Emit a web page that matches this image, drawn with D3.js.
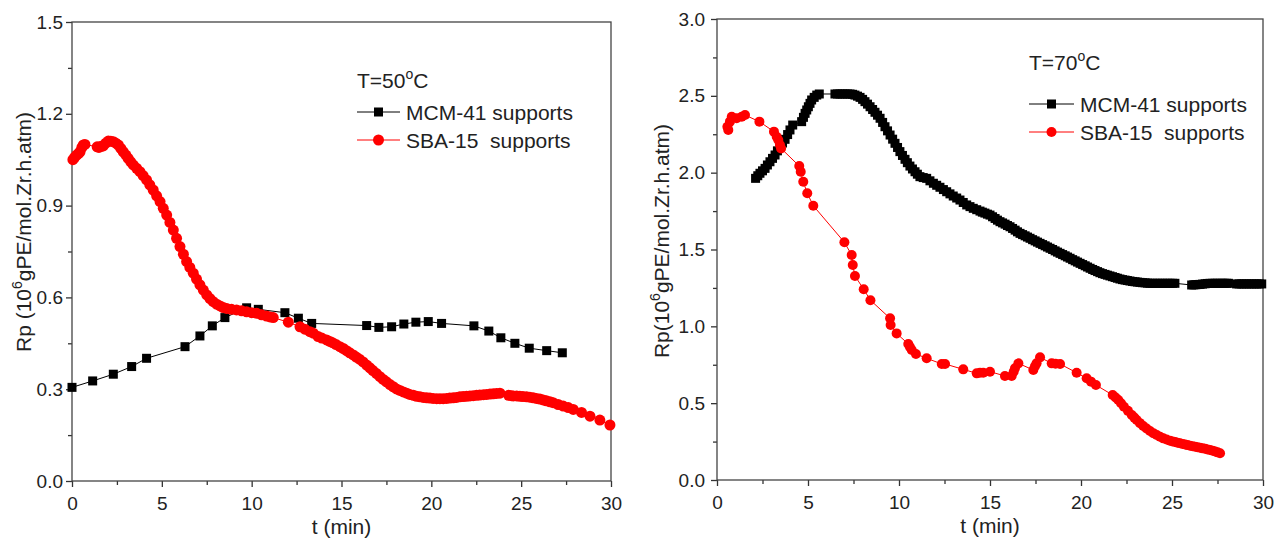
<!DOCTYPE html>
<html>
<head>
<meta charset="utf-8">
<script src="https://cdn.jsdelivr.net/npm/d3@7"></script>
<style>
  body { margin: 0; background: #fff; }
  svg { display: block; }
</style>
</head>
<body>
<script>
// tick values
const xTicks = [0, 5, 10, 15, 20, 25, 30];
const yTicks50 = [0, 0.3, 0.6, 0.9, 1.2, 1.5];
const yTicks70 = [0, 0.5, 1.0, 1.5, 2.0, 2.5, 3.0];

// T = 50 C, [t (min), Rp]
const mcm50 = [[0,0.306],[1.15,0.327],[2.3,0.349],[3.32,0.374],[4.15,0.401],[6.29,0.439],[7.12,0.474],
  [7.81,0.507],[8.51,0.534],[9.72,0.566],[10.37,0.561],[11.85,0.55],[12.6,0.532],[13.34,0.515],
  [16.4,0.508],[17.08,0.502],[17.79,0.504],[18.47,0.513],[19.14,0.519],[19.83,0.521],[20.57,0.515],
  [22.37,0.507],[23.2,0.49],[23.87,0.468],[24.65,0.45],[25.45,0.434],[26.42,0.426],[27.29,0.419]];

const sba50 = [[0.05,1.05],[0.15,1.058],[0.26,1.065],[0.36,1.07],[0.45,1.076],[0.55,1.09],[0.63,1.098],
  [0.72,1.1],[1.4,1.092],[1.5,1.09],[1.62,1.094],[1.74,1.095],[1.88,1.104],[2.02,1.111],[2.16,1.11],
  [2.3,1.109],[2.44,1.104],[2.58,1.098],[2.72,1.087],[2.85,1.076],[3.0,1.065],[3.13,1.054],[3.27,1.043],
  [3.41,1.033],[3.6,1.022],[3.78,1.011],[3.96,0.998],[4.15,0.984],[4.33,0.968],[4.52,0.951],[4.71,0.932],
  [4.9,0.913],[5.08,0.891],[5.27,0.869],[5.45,0.845],[5.64,0.82],[5.82,0.793],[6.01,0.766],[6.2,0.741],
  [6.38,0.717],[6.56,0.698],[6.75,0.679],[6.93,0.66],[7.12,0.641],[7.31,0.624],[7.5,0.608],[7.68,0.596],
  [7.86,0.586],[8.05,0.578],[8.24,0.572],[8.42,0.567],[8.61,0.564],[8.88,0.561],[9.16,0.559],[9.44,0.556],
  [9.72,0.553],[10.0,0.55],[10.28,0.548],[10.55,0.543],[10.83,0.539],[11.02,0.536],[11.2,0.534],
  [12.04,0.519],[12.69,0.504],[12.96,0.496],[13.24,0.488],[13.43,0.483],[13.7,0.472],[13.9,0.467],
  [14.17,0.461],[14.35,0.456],[14.5,0.452],[14.7,0.446],[14.91,0.439],[15.1,0.433],[15.28,0.426],
  [15.46,0.419],[15.65,0.412],[15.82,0.405],[16.0,0.398],[16.2,0.389],[16.4,0.379],[16.58,0.37],
  [16.75,0.361],[16.95,0.351],[17.14,0.341],[17.32,0.332],[17.5,0.324],[17.7,0.315],[17.88,0.308],
  [18.06,0.301],[18.25,0.296],[18.44,0.291],[18.63,0.287],[18.8,0.283],[19.0,0.28],[19.18,0.277],
  [19.37,0.275],[19.55,0.273],[19.74,0.272],[19.92,0.271],[20.1,0.27],[20.3,0.269],[20.48,0.269],
  [20.66,0.269],[20.85,0.27],[21.03,0.271],[21.22,0.272],[21.4,0.273],[21.59,0.275],[21.77,0.276],
  [21.96,0.277],[22.15,0.278],[22.33,0.279],[22.52,0.28],[22.7,0.281],[22.9,0.282],[23.08,0.283],
  [23.27,0.284],[23.45,0.285],[23.63,0.286],[23.82,0.287],[24.3,0.28],[24.45,0.279],[24.56,0.278],
  [24.75,0.278],[24.93,0.277],[25.1,0.276],[25.3,0.275],[25.48,0.274],[25.67,0.272],[25.85,0.27],
  [26.04,0.268],[26.22,0.265],[26.4,0.262],[26.6,0.259],[26.78,0.256],[27.06,0.25],
  [27.34,0.245],[27.62,0.24],[27.9,0.234],[28.36,0.224],[28.83,0.212],[29.38,0.199],[29.94,0.183]];

// T = 70 C
const mcm70 = [[2.12,1.963],[2.24,1.98],[2.36,1.996],[2.5,2.012],[2.64,2.028],[2.77,2.05],[2.91,2.071],
  [3.05,2.093],[3.19,2.115],[3.32,2.142],[3.46,2.169],[3.6,2.193],[3.74,2.217],[3.88,2.248],[4.01,2.278],
  [4.16,2.31],[4.65,2.332],[4.75,2.36],[4.84,2.386],[4.93,2.408],[5.02,2.429],[5.11,2.451],[5.2,2.473],
  [5.34,2.49],[5.48,2.505],[5.62,2.512],[6.48,2.512],[6.62,2.512],[6.76,2.512],[6.9,2.512],[7.03,2.512],
  [7.17,2.512],[7.31,2.512],[7.45,2.51],[7.58,2.505],[7.72,2.498],[7.86,2.49],[8.0,2.477],[8.13,2.462],
  [8.27,2.446],[8.41,2.429],[8.55,2.411],[8.68,2.393],[8.82,2.374],[8.96,2.354],[9.1,2.327],[9.23,2.299],
  [9.37,2.272],[9.51,2.245],[9.65,2.218],[9.78,2.191],[9.92,2.164],[10.05,2.137],[10.19,2.112],
  [10.33,2.087],[10.46,2.065],[10.6,2.043],[10.74,2.024],[10.88,2.006],[11.01,1.99],[11.15,1.974],
  [11.33,1.968],[11.52,1.963],[11.7,1.947],[11.89,1.931],[12.07,1.918],[12.25,1.905],[12.44,1.89],
  [12.62,1.876],[12.8,1.862],[12.98,1.848],[13.17,1.835],[13.35,1.822],[13.53,1.806],[13.72,1.79],
  [13.9,1.779],[14.08,1.768],[14.27,1.759],[14.45,1.75],[14.58,1.743],[14.72,1.737],[14.86,1.73],
  [15.0,1.724],[15.14,1.713],[15.28,1.702],[15.41,1.691],[15.55,1.681],[15.69,1.673],[15.83,1.665],
  [15.96,1.656],[16.1,1.648],[16.24,1.637],[16.38,1.626],[16.51,1.615],[16.65,1.605],[16.79,1.597],
  [16.93,1.589],[17.06,1.581],[17.2,1.573],[17.34,1.564],[17.48,1.556],[17.61,1.548],[17.75,1.54],
  [17.89,1.532],[18.03,1.524],[18.16,1.516],[18.3,1.508],[18.44,1.5],[18.58,1.491],[18.71,1.483],
  [18.85,1.475],[18.99,1.467],[19.13,1.459],[19.26,1.451],[19.4,1.443],[19.54,1.434],[19.68,1.426],
  [19.81,1.418],[19.95,1.41],[20.09,1.402],[20.23,1.394],[20.36,1.386],[20.5,1.378],[20.64,1.37],
  [20.77,1.363],[20.91,1.356],[21.04,1.349],[21.18,1.343],[21.32,1.338],[21.45,1.333],[21.59,1.328],
  [21.73,1.323],[21.87,1.318],[22.0,1.313],[22.14,1.308],[22.28,1.304],[22.42,1.301],[22.55,1.298],
  [22.69,1.295],[22.83,1.292],[22.97,1.29],[23.1,1.288],[23.24,1.286],[23.38,1.284],[23.52,1.283],
  [23.65,1.281],[23.79,1.28],[23.93,1.28],[24.07,1.28],[24.2,1.28],[24.34,1.28],[24.48,1.28],
  [24.62,1.28],[24.75,1.28],[24.89,1.28],[25.03,1.28],[25.16,1.28],[26.08,1.269],[26.2,1.27],
  [26.31,1.271],[26.43,1.272],[26.54,1.273],[26.68,1.275],[26.82,1.277],[26.95,1.279],[27.09,1.28],
  [27.23,1.28],[27.37,1.28],[27.5,1.28],[27.64,1.28],[27.76,1.28],[27.87,1.28],[28.0,1.28],[28.1,1.28],
  [28.55,1.276],[28.69,1.276],[28.83,1.276],[28.96,1.276],[29.1,1.276],[29.24,1.276],[29.38,1.276],
  [29.51,1.276],[29.65,1.276],[29.79,1.276],[29.93,1.276]];

const sba70 = [[0.57,2.299],[0.62,2.278],[0.71,2.332],[0.81,2.364],[1.08,2.354],[1.36,2.364],[1.54,2.375],
  [2.33,2.332],[3.13,2.267],[3.28,2.234],[3.37,2.212],[3.46,2.18],[3.52,2.158],[4.52,2.043],[4.6,2.006],
  [4.74,1.941],[4.96,1.866],[5.29,1.785],[7.0,1.547],[7.4,1.464],[7.46,1.399],[7.58,1.328],[8.06,1.241],
  [8.43,1.17],[9.51,1.052],[9.54,1.009],[9.87,0.954],[10.51,0.885],[10.6,0.865],[10.7,0.846],[10.93,0.82],
  [11.52,0.792],[12.35,0.755],[12.53,0.755],[13.53,0.72],[14.27,0.694],[14.45,0.698],[14.63,0.698],
  [15.0,0.705],[15.82,0.677],[16.19,0.677],[16.3,0.705],[16.37,0.727],[16.56,0.759],[17.38,0.716],
  [17.47,0.74],[17.56,0.759],[17.75,0.798],[18.39,0.759],[18.6,0.757],[18.85,0.755],[19.76,0.698],
  [20.31,0.662],[20.55,0.64],[20.82,0.618],[21.74,0.553],[21.9,0.537],[22.05,0.521],[22.2,0.5],
  [22.36,0.477],[22.58,0.45],[22.79,0.423],[22.93,0.406],[23.06,0.39],[23.24,0.37],[23.42,0.351],
  [23.6,0.335],[23.79,0.319],[23.97,0.305],[24.16,0.293],[24.34,0.281],[24.52,0.271],[24.7,0.263],
  [24.89,0.256],[25.03,0.251],[25.17,0.247],[25.3,0.243],[25.44,0.239],[25.58,0.235],[25.72,0.231],
  [25.85,0.227],[25.99,0.223],[26.13,0.22],[26.27,0.216],[26.4,0.213],[26.54,0.21],[26.68,0.206],
  [26.82,0.203],[26.95,0.199],[27.09,0.195],[27.23,0.191],[27.37,0.186],[27.5,0.18],[27.64,0.174]];

const FONT = "'Liberation Sans', Arial, Helvetica, sans-serif";
const RED = "#ff0000";
const W = 1278, H = 541;

const svg = d3.select("body").append("svg")
  .attr("width", W).attr("height", H)
  .style("background", "#fff")
  .attr("font-family", FONT);

// midpoints between majors -> minor ticks
function minor(t) {
  return d3.pairs(t).map(p => (p[0] + p[1]) / 2);
}

function panel(o) {
  const x = d3.scaleLinear().domain([0, 30]).range([o.l, o.r]);
  const y = d3.scaleLinear().domain([0, o.yTicks[o.yTicks.length - 1]]).range([o.b, o.t]);
  const g = svg.append("g");

  const ax = g.append("g");
  ax.append("g").attr("transform", "translate(0," + o.b + ")")
    .call(d3.axisBottom(x).tickValues(minor(xTicks)).tickSize(4).tickFormat(""));
  ax.append("g").attr("transform", "translate(0," + o.b + ")")
    .call(d3.axisBottom(x).tickValues(xTicks).tickSize(6).tickPadding(10).tickFormat(d3.format("d")));
  ax.append("g").attr("transform", "translate(" + o.l + ",0)")
    .call(d3.axisLeft(y).tickValues(minor(o.yTicks)).tickSize(4).tickFormat(""));
  ax.append("g").attr("transform", "translate(" + o.l + ",0)")
    .call(d3.axisLeft(y).tickValues(o.yTicks).tickSize(6).tickPadding(o.yPad).tickFormat(d3.format(".1f")));
  ax.selectAll(".domain").remove();
  ax.selectAll(".tick line").attr("stroke", "#333").attr("stroke-width", 1.3);
  ax.selectAll(".tick text")
    .attr("font-family", FONT).attr("font-size", 19).attr("fill", "#222");

  g.append("rect")
    .attr("x", o.l).attr("y", o.t)
    .attr("width", o.r - o.l).attr("height", o.b - o.t)
    .attr("fill", "none").attr("stroke", "#444").attr("stroke-width", 1.3);

  const line = d3.line().x(d => x(d[0])).y(d => y(d[1]));

  // MCM-41 squares
  g.append("path").datum(o.mcm).attr("d", line)
    .attr("fill", "none").attr("stroke", "#000").attr("stroke-width", 1);
  g.selectAll(".sq").data(o.mcm).enter().append("rect")
    .attr("class", "sq")
    .attr("x", d => x(d[0]) - o.sq / 2).attr("y", d => y(d[1]) - o.sq / 2)
    .attr("width", o.sq).attr("height", o.sq).attr("fill", "#000");

  // SBA-15 circles
  g.append("path").datum(o.sba).attr("d", line)
    .attr("fill", "none").attr("stroke", RED).attr("stroke-width", 1);
  g.selectAll(".ci").data(o.sba).enter().append("circle")
    .attr("class", "ci")
    .attr("cx", d => x(d[0])).attr("cy", d => y(d[1]))
    .attr("r", o.cr).attr("fill", RED);

  // axis titles
  g.append("text").attr("x", (o.l + o.r) / 2).attr("y", o.b + 53)
    .attr("text-anchor", "middle").attr("font-size", 21).attr("fill", "#222")
    .text("t (min)");

  const yt = g.append("text")
    .attr("transform", "translate(" + o.yTitleX + "," + o.yTitleY + ") rotate(-90)")
    .attr("text-anchor", "middle").attr("font-size", 21).attr("fill", "#222");
  yt.append("tspan").text(o.yPre + "10");
  yt.append("tspan").attr("font-size", 14).attr("dy", -9).text("6");
  yt.append("tspan").attr("dy", 9).text("gPE/mol.Zr.h.atm)");

  // legend
  const lg = o.legend;
  const tt = g.append("text").attr("x", lg.x).attr("y", lg.ty)
    .attr("font-size", 21).attr("fill", "#222");
  tt.append("tspan").text(o.temp);
  tt.append("tspan").attr("font-size", 14).attr("dy", -9).text("o");
  tt.append("tspan").attr("dy", 9).text("C");

  const rows = [
    { label: "MCM-41 supports", color: "#000", shape: "sq", cy: lg.y1 },
    { label: "SBA-15\u00a0 supports", color: RED, shape: "ci", cy: lg.y2 }
  ];
  rows.forEach(r => {
    g.append("line").attr("x1", lg.x).attr("x2", lg.x + lg.len)
      .attr("y1", r.cy).attr("y2", r.cy).attr("stroke", r.color).attr("stroke-width", 1);
    const mx = lg.x + lg.len / 2;
    if (r.shape === "sq") {
      g.append("rect").attr("x", mx - o.sq / 2).attr("y", r.cy - o.sq / 2)
        .attr("width", o.sq).attr("height", o.sq).attr("fill", r.color);
    } else {
      g.append("circle").attr("cx", mx).attr("cy", r.cy).attr("r", o.cr).attr("fill", r.color);
    }
    g.append("text").attr("x", lg.x + lg.len + 6).attr("y", r.cy + 7.5)
      .attr("font-size", 21).attr("fill", "#222").text(r.label);
  });
}

panel({
  l: 72, r: 611, t: 22, b: 481,
  yTicks: yTicks50, yPad: 3,
  mcm: mcm50, sba: sba50, sq: 9, cr: 5.5,
  yTitleX: 31, yTitleY: 232, yPre: "Rp (",
  temp: "T=50",
  legend: { x: 357, ty: 88, len: 43, y1: 112, y2: 140 }
});

panel({
  l: 717, r: 1263, t: 19, b: 480,
  yTicks: yTicks70, yPad: 6,
  mcm: mcm70, sba: sba70, sq: 9, cr: 5,
  yTitleX: 669, yTitleY: 241, yPre: "Rp(",
  temp: "T=70",
  legend: { x: 1029, ty: 70, len: 45, y1: 104, y2: 132 }
});
</script>
</body>
</html>
